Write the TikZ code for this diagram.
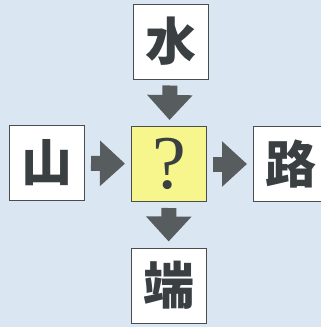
\documentclass[tikz,border=0pt]{standalone}
\usepackage{fontspec}
\newfontfamily\cjk{Noto Sans CJK JP}
\newfontfamily\serifq{Liberation Serif}
\definecolor{fondo}{HTML}{DBE6F3}
\definecolor{gris}{HTML}{575C5F}
\definecolor{borde}{HTML}{4A4D4F}
\definecolor{tinta}{HTML}{3A3F42}
\definecolor{amarillo}{HTML}{F6F68C}
\usetikzlibrary{arrows.meta}

\begin{document}
\begin{tikzpicture}[x=1pt,y=-1pt,
        caja/.style={draw=borde,line width=1pt,fill=white,minimum size=75pt,
            inner sep=0pt,text=tinta,font=\cjk\bfseries\fontsize{51}{51}\selectfont},
        flecha/.style={gris,line width=15pt,
            -{Triangle[width=44pt,length=25pt]},shorten >=6pt,shorten <=6pt}]
        % Fondo azul claro
        \fill[fondo] (0,0) rectangle (321,327);
        \useasboundingbox (0,0) rectangle (321,327);

        % Caja central con el signo de pregunta
        \node[caja,fill=amarillo,font=\serifq\fontsize{76}{76}\selectfont] (q) at (169,164) {?};

        % Cajas de los caracteres
        \node[caja] (agua) at (170.5,41.5) {水};
        \node[caja] (monte) at (47,163) {山};
        \node[caja] (camino) at (291,164) {路};
        \node[caja] (punta) at (168.5,285.5) {端};

        % Flechas hacia el centro y desde el centro
        \draw[flecha] (agua) -- (q);
        \draw[flecha] (monte) -- (q);
        \draw[flecha] (q) -- (camino);
        \draw[flecha] (q) -- (punta);
    \end{tikzpicture}
\end{document}
